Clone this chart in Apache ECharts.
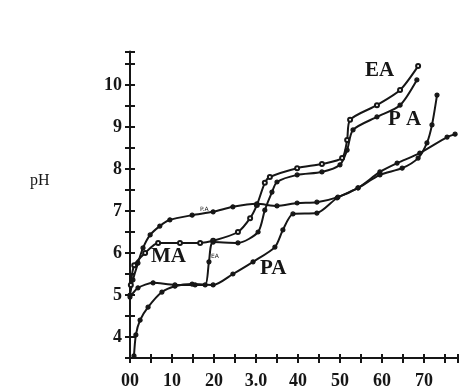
<!DOCTYPE html>
<html>
<head>
<meta charset="utf-8">
<script src="https://cdn.jsdelivr.net/npm/echarts@6.0.0/dist/echarts.min.js"></script>
<style>
  html, body { margin: 0; padding: 0; background: #fff; }
  #chart { width: 462px; height: 392px; }
</style>
</head>
<body>
<div id="chart"></div>
<script>
// tick labels as printed on the scan
const xTickValues = [0, 10, 20, 30, 40, 50, 60, 70]
const xTickLabels = ['00', '10', '20', '3.0', '40', '50', '60', '70']
const yTickValues = [4, 5, 6, 7, 8, 9, 10]

// curves, [x, pH]
const eaUpper = [
  [0.2, 5.24], [1.0, 5.71], [3.6, 6.0], [6.7, 6.24], [11.9, 6.24], [16.7, 6.24],
  [19.8, 6.29], [25.7, 6.5], [28.6, 6.83], [30.2, 7.14], [32.1, 7.67], [33.3, 7.81],
  [39.8, 8.02], [45.7, 8.12], [50.5, 8.26], [51.7, 8.69], [52.4, 9.17], [58.8, 9.52],
  [64.3, 9.88], [68.6, 10.45]
]
const eaLower = [
  [0, 4.95], [1.9, 5.17], [5.5, 5.29], [10.7, 5.24], [15.5, 5.24], [17.9, 5.24],
  [18.8, 5.79], [19.8, 6.26], [25.7, 6.24], [30.5, 6.5], [32.1, 7.02], [33.8, 7.45],
  [35.0, 7.69], [39.8, 7.86], [45.7, 7.93], [50.0, 8.1], [51.7, 8.45], [53.1, 8.93],
  [58.8, 9.24], [64.3, 9.52], [68.3, 10.12]
]
const flatCurve = [
  [0, 5.0], [0.7, 5.36], [1.9, 5.76], [3.1, 6.12], [4.8, 6.43], [7.1, 6.64],
  [9.5, 6.79], [14.8, 6.9], [19.8, 6.98], [24.5, 7.1], [30.2, 7.17], [35.0, 7.12],
  [39.8, 7.19], [44.5, 7.21], [49.5, 7.33], [54.3, 7.55], [59.5, 7.93], [63.6, 8.14],
  [69.0, 8.38], [75.5, 8.76], [77.4, 8.83]
]
const paCurve = [
  [0.95, 3.55], [1.4, 4.05], [2.4, 4.4], [4.3, 4.71], [7.6, 5.07], [10.7, 5.21],
  [14.8, 5.26], [19.8, 5.24], [24.5, 5.5], [29.3, 5.79], [34.5, 6.14], [36.4, 6.55],
  [38.8, 6.93], [44.5, 6.95], [49.3, 7.31], [54.3, 7.55], [59.5, 7.86], [64.8, 8.02],
  [68.6, 8.26], [70.7, 8.62], [71.9, 9.05], [73.1, 9.76]
]

const ink = '#161616'
const tickFont = { color: ink, fontSize: 18, fontWeight: 'bold', fontFamily: 'Liberation Sans Narrow' }
const labelFont = { fill: ink, fontSize: 21, fontWeight: 'bold', fontFamily: 'Liberation Serif' }

const chart = echarts.init(document.getElementById('chart'))

function line(data, symbol) {
  return {
    type: 'line',
    data,
    smooth: 0.25,
    symbol,
    symbolSize: 4,
    lineStyle: { color: ink, width: 2 },
    itemStyle: { color: ink, borderColor: ink, borderWidth: 1.2 },
    animation: false,
    z: 3
  }
}

chart.setOption({
  animation: false,
  grid: { left: 130, top: 51.4, width: 327.6, height: 306.6 },
  xAxis: [
    {
      type: 'value', min: 0, max: 78, interval: 5,
      splitLine: { show: false },
      axisLine: { lineStyle: { color: ink, width: 2 } },
      axisTick: { lineStyle: { color: ink, width: 2 }, length: 5 },
      axisLabel: {
        ...tickFont, margin: 14,
        formatter: v => {
          const i = xTickValues.indexOf(v)
          return i >= 0 ? xTickLabels[i] : ''
        }
      }
    },
    {
      type: 'value', min: 0, max: 78, interval: 5, position: 'bottom',
      splitLine: { show: false },
      axisLine: { show: false },
      axisTick: { inside: true, lineStyle: { color: ink, width: 2 }, length: 4 },
      axisLabel: { show: false }
    }
  ],
  yAxis: [
    {
      type: 'value', min: 3.5, max: 10.8, interval: 0.5,
      splitLine: { show: false },
      axisLine: { lineStyle: { color: ink, width: 2 } },
      axisTick: { lineStyle: { color: ink, width: 2 }, length: 5 },
      axisLabel: {
        ...tickFont, margin: 8,
        formatter: v => (yTickValues.includes(v) ? String(v) : '')
      }
    },
    {
      type: 'value', min: 3.5, max: 10.8, interval: 0.5, position: 'left',
      splitLine: { show: false },
      axisLine: { show: false },
      axisTick: { inside: true, lineStyle: { color: ink, width: 2 }, length: 5 },
      axisLabel: { show: false }
    }
  ],
  series: [
    line(eaUpper, 'emptyCircle'),
    line(eaLower, 'circle'),
    line(flatCurve, 'circle'),
    line(paCurve, 'circle')
  ],
  graphic: [
    { type: 'text', left: 30, top: 173, style: { text: 'pH', fill: ink, fontSize: 16, fontFamily: 'Liberation Serif' } },
    { type: 'text', left: 365, top: 60, style: { text: 'EA', ...labelFont } },
    { type: 'text', left: 388, top: 109, style: { text: 'P A', ...labelFont } },
    { type: 'text', left: 151, top: 246, style: { text: 'MA', ...labelFont } },
    { type: 'text', left: 260, top: 258, style: { text: 'PA', ...labelFont } },
    { type: 'text', left: 200, top: 206, style: { text: 'P.A', fill: ink, fontSize: 6, fontFamily: 'DejaVu Sans' } },
    { type: 'text', left: 211, top: 253, style: { text: 'EA', fill: ink, fontSize: 6, fontFamily: 'DejaVu Sans' } }
  ]
})
</script>
</body>
</html>
